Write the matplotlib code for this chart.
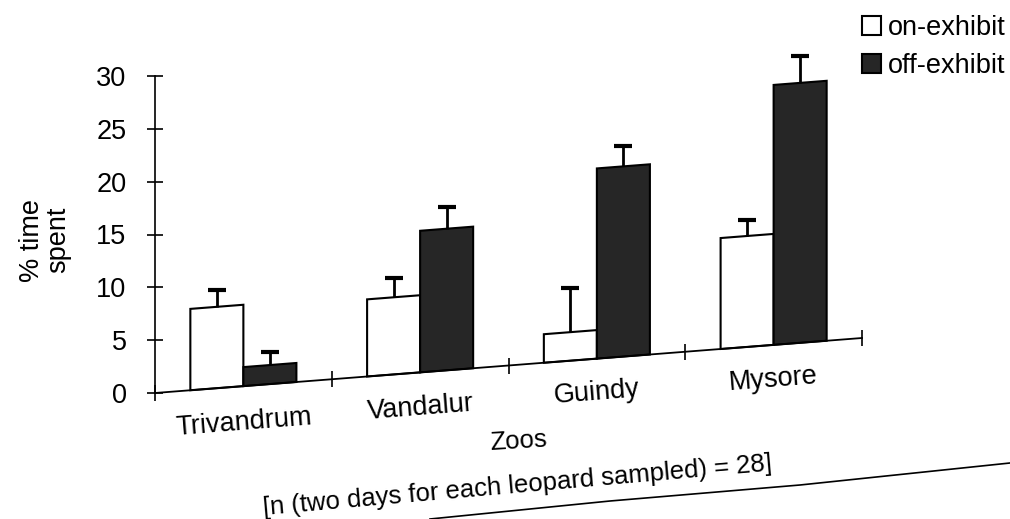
import numpy as np
import matplotlib
matplotlib.use('Agg')
import matplotlib.pyplot as plt
from matplotlib.transforms import Affine2D
from matplotlib.artist import Artist

# data
zoos = ['Trivandrum', 'Vandalur', 'Guindy', 'Mysore']
on_exhibit = [7.7, 7.3, 2.7, 10.5]
on_err = [1.6, 1.8, 4.2, 1.5]
off_exhibit = [1.8, 13.4, 18.0, 24.6]
off_err = [1.2, 2.1, 1.9, 2.5]
yticks = [0, 5, 10, 15, 20, 25, 30]

plt.rcParams['font.family'] = ['Liberation Sans', 'DejaVu Sans']
plt.rcParams['font.size'] = 19.5

W, H = 1010, 519
fig = plt.figure(figsize=(W / 100, H / 100), dpi=100)
x0, y0 = 155, 393   # pixel position of the origin
ax = fig.add_axes([x0 / W, (H - y0) / H, (862 - x0) / W, (y0 - 76) / H])

# the scan is sheared: the baseline climbs to the right
k = 55 / 707
shear = Affine2D().translate(-x0, 0).skew(0, np.arctan(k)).translate(x0, 0)

x = np.arange(len(zoos))
w = 0.3
b1 = ax.bar(x - w / 2, on_exhibit, w, color='white', edgecolor='black', lw=1.5, label='on-exhibit')
b2 = ax.bar(x + w / 2, off_exhibit, w, color='#262626', edgecolor='black', lw=1.5, label='off-exhibit')

for xs, vals, errs in [(x - w / 2, on_exhibit, on_err), (x + w / 2, off_exhibit, off_err)]:
    eb = ax.errorbar(xs, vals, yerr=[np.zeros(len(vals)), errs], fmt='none', ecolor='black',
                     elinewidth=2, capsize=6.5, capthick=3)
    # keep only the upper cap
    caps = eb.lines[1]
    low = min(caps, key=lambda c: np.mean(c.get_ydata()))
    low.remove()

ax.axhline(0, color='black', lw=1.3)
edges = np.arange(len(zoos) + 1) - 0.5
ax.plot(edges, np.zeros(len(edges)), ls='none', marker='|', ms=11, mew=1.2, color='black')

ax.set_xlim(-0.5, len(zoos) - 0.5)
ax.set_ylim(0, 30)
ax.set_yticks(yticks)
ax.tick_params(axis='y', direction='inout', length=11, width=1.2, pad=15)
ax.set_xticks(x, zoos, rotation=4.5)
ax.tick_params(axis='x', length=0, pad=13)
for s in ['top', 'right', 'bottom']:
    ax.spines[s].set_visible(False)
ax.spines['left'].set_linewidth(1.2)

# apply the shear to everything drawn in data space
for p in ax.patches:
    p.set_transform(p.get_data_transform() + shear)
    p.set_clip_on(False)
for a in list(ax.lines) + list(ax.collections):
    a.set_transform(Artist.get_transform(a) + shear)
    a.set_clip_on(False)
for t in ax.xaxis.get_major_ticks():
    t.label1.set_transform(t.label1.get_transform() + shear)

fig.legend(handles=[b1, b2], loc='upper left', bbox_to_anchor=(862 / W, 1 - 15 / H),
           frameon=False, handlelength=0.7, handleheight=0.7, handletextpad=0.25,
           labelspacing=0.45, borderpad=0, borderaxespad=0)

fig.text(45 / W, 1 - 240 / H, '% time\nspent', rotation=90, ha='center', va='center',
         multialignment='center', linespacing=1.0)
fig.text(518 / W, 1 - 441 / H, 'Zoos', rotation=3.5, ha='center', va='center', fontsize=18.5)
fig.text(517 / W, 1 - 486 / H, '[n (two days for each leopard sampled) = 28]',
         rotation=5, ha='center', va='center', fontsize=18.5)

# page edge line visible in the scan
fig.add_artist(plt.Line2D(np.array([430, 610, 800, 1010]) / W,
                          1 - np.array([519, 501, 485, 463]) / H,
                          color='black', lw=1.2))

fig.savefig('out.png', dpi=100)
